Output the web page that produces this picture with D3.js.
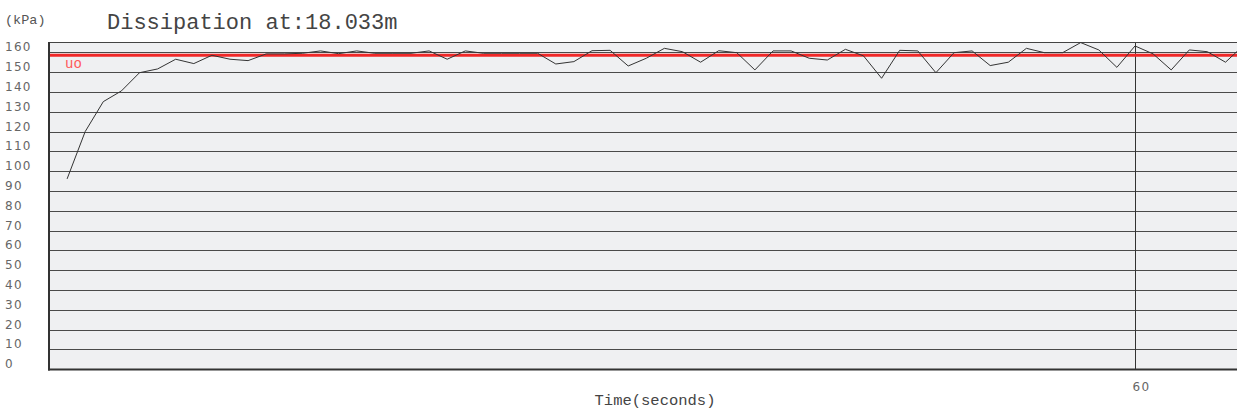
<!DOCTYPE html>
<html><head><meta charset="utf-8">
<script src="https://cdn.jsdelivr.net/npm/d3@7"></script>
<style>html,body{margin:0;padding:0;background:#fff;}svg{display:block;}</style>
</head><body>
<svg id="chart" width="1237" height="413"></svg>
<script>
const times = d3.range(1, 67);
const pressure = [96.1,120,135.1,140.5,149.7,151.6,156.5,154.3,158.5,156.5,
155.8,159.2,159.2,159.5,160.7,159.3,160.7,159.5,159.5,159.5,
160.7,156.5,160.7,159.5,159.5,159.5,159.5,154.1,155.3,160.8,
161,153.1,157,162,160.3,155,160.8,159.8,151.1,160.7,
160.7,157,156.1,161.5,158.2,146.9,161,160.7,149.7,159.8,
160.7,153.3,155,162,159.8,159.8,164.9,161.2,152.4,163.2,
159.2,151.1,161.2,160.3,155,163.5];
const yTicks = d3.range(0, 170, 10);
const xTicks = [60];
const uoValue = 158.5;
const uoLabel = "uo";
const title = "Dissipation at:18.033m";
const unitLabel = "(kPa)";
const xLabel = "Time(seconds)";

(function(){
const svg = d3.select("#chart");
const x = d3.scaleLinear().domain([0, 60]).range([49, 1135]);
const y = d3.scaleLinear().domain([0, 160]).range([369.3, 52.3]);
const pL = 49, pR = 1237, pT = 42, pB = 369.5;

svg.append("defs").append("clipPath").attr("id","clip")
  .append("rect").attr("x",pL).attr("y",pT).attr("width",pR-pL).attr("height",pB-pT);

svg.append("rect").attr("x",pL).attr("y",pT).attr("width",pR-pL).attr("height",pB-pT)
  .attr("fill","#eff0f2");

// gridlines
svg.append("g").selectAll("line").data(yTicks.filter(d=>d>0)).join("line")
  .attr("x1",pL).attr("x2",pR)
  .attr("y1",d=>Math.round(y(d))+0.5).attr("y2",d=>Math.round(y(d))+0.5)
  .attr("stroke","#4a4a4a").attr("stroke-width",1);

// vertical tick lines
svg.append("g").selectAll("line").data(xTicks).join("line")
  .attr("x1",d=>Math.round(x(d))+0.5).attr("x2",d=>Math.round(x(d))+0.5)
  .attr("y1",pT).attr("y2",pB)
  .attr("stroke","#333").attr("stroke-width",1);

// borders
svg.append("line").attr("x1",pL).attr("x2",pR).attr("y1",pT+0.5).attr("y2",pT+0.5)
  .attr("stroke","#444").attr("stroke-width",1.2);
svg.append("line").attr("x1",pL).attr("x2",pL).attr("y1",pT).attr("y2",pB+1)
  .attr("stroke","#333").attr("stroke-width",2);
svg.append("line").attr("x1",pL-1).attr("x2",pR).attr("y1",pB).attr("y2",pB)
  .attr("stroke","#333").attr("stroke-width",2);

// uo line
svg.append("line").attr("x1",pL+1).attr("x2",pR).attr("y1",y(uoValue)).attr("y2",y(uoValue))
  .attr("stroke","#f02828").attr("stroke-width",3);
svg.append("text").attr("x",65).attr("y",y(uoValue)+13)
  .attr("font-family","Liberation Mono, monospace").attr("font-size",14)
  .attr("fill","#ff5a5a").text(uoLabel);

// data line
const line = d3.line().x((d,i)=>x(times[i])).y(d=>y(d));
svg.append("path").datum(pressure).attr("d",line).attr("clip-path","url(#clip)")
  .attr("fill","none").attr("stroke","#333").attr("stroke-width",1);

// y tick labels
svg.append("g").selectAll("text").data(yTicks).join("text")
  .attr("x",5).attr("y",d=>y(d)-1)
  .attr("font-family","DejaVu Sans, sans-serif").attr("font-size",12)
  .attr("letter-spacing","1.3px")
  .attr("fill","#666").text(d=>d);

// x tick labels
svg.append("g").selectAll("text").data(xTicks).join("text")
  .attr("x",d=>x(d)-2.5).attr("y",391)
  .attr("font-family","DejaVu Sans, sans-serif").attr("font-size",12)
  .attr("letter-spacing","1.3px")
  .attr("fill","#666").text(d=>d);

svg.append("text").attr("x",5).attr("y",24)
  .attr("font-family","Liberation Mono, monospace").attr("font-size",13.5)
  .attr("fill","#555").text(unitLabel);
svg.append("text").attr("x",107).attr("y",29)
  .attr("font-family","Liberation Mono, monospace").attr("font-size",22)
  .attr("fill","#444").text(title);
svg.append("text").attr("x",655).attr("y",405).attr("text-anchor","middle")
  .attr("font-family","Liberation Mono, monospace").attr("font-size",15.5)
  .attr("fill","#444").text(xLabel);
})();
</script>
</body></html>
